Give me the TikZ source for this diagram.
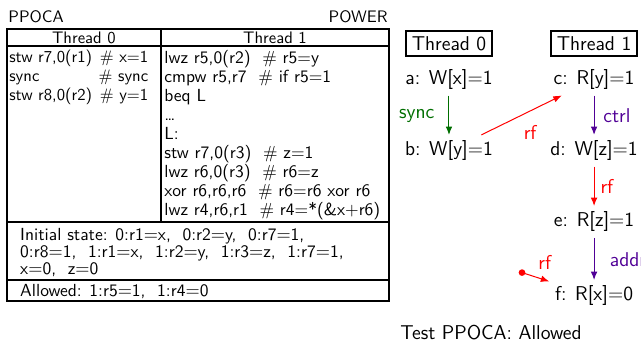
\documentclass[tikz,border=0pt]{standalone}
\usetikzlibrary{arrows.meta}
\renewcommand{\familydefault}{\sfdefault}
\definecolor{syncc}{RGB}{0,110,0}
\definecolor{depc}{RGB}{80,0,150}
\tikzset{
  code/.style  ={anchor=north west,inner sep=0pt,align=left,
                 font=\fontsize{10.5}{11.4}\selectfont},
  state/.style ={anchor=north west,inner sep=0pt,align=left,
                 font=\fontsize{10.5}{10.1}\selectfont},
  thr/.style   ={draw,line width=1.2pt,font=\large},
  ev/.style    ={font=\large},
  lbl/.style   ={font=\large},
  rel/.style   ={-{Latex[length=5pt,width=4pt]},line width=0.6pt}
}

\begin{document}
\begin{tikzpicture}
  \useasboundingbox (0,0) rectangle (13.52,7.23);

  % Test table
  \node[anchor=west,inner sep=0pt] (arch) at (0.17,6.88) {PPOCA};
  \node[anchor=east,inner sep=0pt] (isa) at (8.18,6.88) {POWER};
  \draw[line width=1.2pt] (0.15,0.89) rectangle (8.20,6.62);
  \draw[line width=1.2pt] (0.15,6.25) -- (8.20,6.25);
  \draw[line width=1.2pt] (3.40,2.55) -- (3.40,6.62);
  \draw[line width=1.2pt] (0.15,2.55) -- (8.20,2.55);
  \draw[line width=1.2pt] (0.15,1.33) -- (8.20,1.33);
  \node (h0) at (1.77,6.43) {Thread 0};
  \node (h1) at (5.80,6.43) {Thread 1};
  \node (p0) at (0.19,6.18) [code, text width=2.93cm, font=\fontsize{10}{11.4}\selectfont]
    {stw r7,0(r1)\hfill\# x=1\\
     sync\hfill\# sync\\
     stw r8,0(r2)\hfill\# y=1};
  \node (p1) at (3.46,6.18) [code]
    {lwz r5,0(r2)\ \ \# r5=y\\
     cmpw r5,r7\ \ \# if r5=1\\
     beq L\\
     \dots\\
     L:\\
     stw r7,0(r3)\ \ \# z=1\\
     lwz r6,0(r3)\ \ \# r6=z\\
     xor r6,r6,r6\ \ \# r6=r6 xor r6\\
     lwz r4,r6,r1\ \ \# r4=*(\&x+r6)};
  \node (init) at (0.42,2.42) [state]
    {Initial state: 0:r1$=$x,\ \ 0:r2$=$y,\ \ 0:r7$=$1,\\
     0:r8$=$1,\ \ 1:r1$=$x,\ \ 1:r2$=$y,\ \ 1:r3$=$z,\ \ 1:r7$=$1,\\
     x$=$0,\ \ z$=$0};
  \node (final) at (0.42,1.09) [state, anchor=west] {Allowed: 1:r5$=$1,\ \ 1:r4$=$0};

  % Execution graph
  \node (t0) at (9.47,6.31) [thr] {Thread 0};
  \node (t1) at (12.53,6.31) [thr] {Thread 1};
  \node (a) at (9.47,5.55) [ev] {a: W[x]=1};
  \node (b) at (9.47,4.05) [ev] {b: W[y]=1};
  \node (c) at (12.53,5.55) [ev] {c: R[y]=1};
  \node (d) at (12.53,4.05) [ev] {d: W[z]=1};
  \node (e) at (12.53,2.55) [ev] {e: R[z]=1};
  \node (f) at (12.53,0.99) [ev] {f: R[x]=0};
  \coordinate (ix) at (11.01,1.48);

  \draw[rel, syncc] (a) -- (b);
  \draw[rel, depc] (c) -- (d);
  \draw[rel, red] (b) -- (c);
  \draw[rel, red] (d) -- (e);
  \draw[rel, depc] (e) -- (f);
  \fill[red] (ix) circle (2pt);
  \draw[rel, red] (ix) -- (f);

  \node[lbl, syncc] (l1) at (8.79,4.78) {sync};
  \node[lbl, depc] (l2) at (13.01,4.78) {ctrl};
  \node[lbl, red] (l3) at (11.18,4.43) {rf};
  \node[lbl, red] (l4) at (12.80,3.29) {rf};
  \node[lbl, depc, anchor=west] (l5) at (12.74,1.75) {addr};
  \node[lbl, red] (l6) at (11.49,1.69) {rf};

  \node[lbl, anchor=west] (test) at (8.32,0.21) {Test PPOCA: Allowed};
\end{tikzpicture}
\end{document}
